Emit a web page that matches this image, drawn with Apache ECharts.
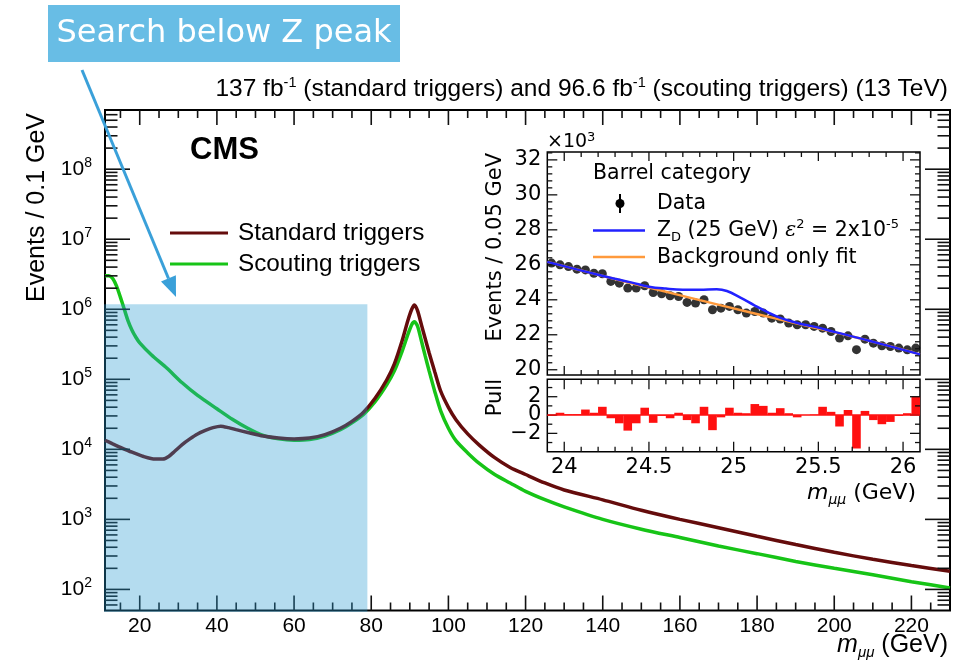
<!DOCTYPE html>
<html><head><meta charset="utf-8">
<script src="https://cdn.jsdelivr.net/npm/echarts@6/dist/echarts.min.js"></script>
<style>html,body{margin:0;padding:0;background:#fff}#c{width:971px;height:663px}</style>
</head><body><div id="c"></div>
<script>
// ---------- main plot data (m_mumu in GeV, events / 0.1 GeV) ----------
const massStd = [11,13,15,18,21,24,26,27.5,29,31,33,35,37,39,41,43,45,48,52,56,60,64,68,72,75,78,81,84,86,88,89.5,90.5,91.2,92,93,94,95,96.5,98,100,102,105,108,112,116,120,125,130,140,150,160,170,180,190,200,210,220,230];
const eventsStd = [13500,12000,10700,9100,7900,7250,7250,7900,9300,11700,14100,16600,18600,20400,21400,20400,19100,17400,15500,14500,14100,14500,16200,20000,25100,33900,53700,97700,166000,355000,692000,1000000,1150000,955000,603000,380000,240000,126000,67600,39800,26300,16600,11500,7600,5500,4370,3310,2630,1900,1350,1000,760,575,437,339,269,219,182];
const massSct = [11,12,13,14,15,16,17,18,19,20,23,27,31,35,40,44,48,52,56,60,64,68,72,75,78,81,84,86,88,89.5,90.5,91.2,92,93,94,95,96.5,98,100,102,105,108,112,116,120,125,130,140,150,160,170,180,190,200,210,220,230];
const eventsSct = [3020000,3020000,2750000,2140000,1480000,1000000,676000,501000,398000,331000,224000,145000,89100,58900,38000,26900,20000,15800,14100,13500,13800,15500,19100,24000,31600,47900,83200,132000,251000,437000,603000,661000,575000,355000,214000,132000,66100,35500,20000,13200,8900,6300,4370,3310,2510,1910,1510,1000,724,550,417,324,251,200,162,129,105];
const seriesNames = ['Standard triggers', 'Scouting triggers'];
const xTickLabels = [20,40,60,80,100,120,140,160,180,200,220];
const shadeMass = [11, 79];
const shadeTop = 1.18e6;

// ---------- inset data (Barrel category, x10^3 events / 0.05 GeV) ----------
const binMass = [23.925,23.975,24.025,24.075,24.125,24.175,24.225,24.275,24.325,24.375,24.425,24.475,24.525,24.575,24.625,24.675,24.725,24.775,24.825,24.875,24.925,24.975,25.025,25.075,25.125,25.175,25.225,25.275,25.325,25.375,25.425,25.475,25.525,25.575,25.625,25.675,25.725,25.775,25.825,25.875,25.925,25.975,26.025,26.075];
const dataEvents = [26.10,26.00,25.90,25.75,25.71,25.52,25.49,25.05,24.95,24.67,24.67,24.80,24.42,24.34,24.23,24.19,23.85,23.81,24.00,23.43,23.52,23.62,23.43,23.24,23.33,23.24,22.95,22.90,22.67,22.57,22.57,22.48,22.38,22.19,21.81,21.94,21.15,21.75,21.52,21.37,21.33,21.24,21.14,21.24];
const pullValues = [-0.1,0.25,0.1,0.1,0.6,0.25,0.9,-0.35,-0.9,-1.7,-0.9,0.8,-0.85,-0.1,-0.35,0.25,-0.55,-0.9,0.9,-1.65,-0.25,0.8,0.25,0.2,1.2,1.0,0.25,0.75,0.2,-0.25,0,0.05,0.9,0.35,-1.25,0.55,-3.65,0.45,-0.55,-1.0,-0.75,-0.1,0.2,2.05];
const fitMass = [23.9,24.2,24.5,24.8,25.1,25.4,25.7,26.0,26.1];
const fitEvents = [26.17,25.43,24.70,23.98,23.27,22.58,21.90,21.15,20.88];
const sigMass = [23.9,24.2,24.3,24.4,24.5,24.6,24.7,24.8,24.9,24.96,25.04,25.12,25.2,25.28,25.38,25.48,25.6,25.8,26.1];
const sigEvents = [26.17,25.43,25.20,24.98,24.75,24.64,24.58,24.58,24.60,24.50,24.12,23.70,23.30,22.95,22.66,22.45,22.15,21.66,20.88];
const insetXTicks = [24,24.5,25,25.5,26];
const insetYTicks = [20,22,24,26,28,30,32];
const pullTicks = [-2,0,2];

// ---------- layout / helpers ----------
const SANS = 'Liberation Sans, Arial, Helvetica, sans-serif';
const DV = 'DejaVu Sans, sans-serif';
const MX = [11,230], MY = [50,7e8];
const IX = [23.9,26.1], IY = [19.7,32.45], PY = [-4,3.9];
const G0 = { left: 105, top: 110, width: 845, height: 500.5 };
const G1 = { left: 547.3, top: 152, width: 372.7, height: 223 };
const G2 = { left: 547.3, top: 379.3, width: 372.7, height: 72.4 };

function steps(a, b, step) { const out = []; for (let i = 0; ; i++) { const v = +(a + i*step).toFixed(6); if (v > b + 1e-9) break; out.push(v); } return out; }
const mainXMinor = steps(15, 225, 5).filter(v => v % 20 !== 0);
const mainYMajor = [1e2,1e3,1e4,1e5,1e6,1e7,1e8];
const mainYMinor = [];
for (let e = 1; e <= 8; e++) for (let k = 2; k <= 9; k++) { const v = k*Math.pow(10,e); if (v > MY[0] && v < MY[1]) mainYMinor.push(v); }
const insetXMinor = steps(24.0, 26.05, 0.1).filter(v => Math.abs(v*2 - Math.round(v*2)) > 1e-6);
const insetYMinor = steps(20, 32.4, 0.4).filter(v => Math.abs(v/2 - Math.round(v/2)) > 1e-6);
const pullYMinor = [-3,-1,1,3];

// Axis-frame ticks (ROOT style: inside, on all four sides). Positions follow each axis' range over its grid box.
function frameTicks(g, xr, yr, xMaj, xMin, yMaj, yMin, len, lw, logY) {
  const fx = v => g.left + (v - xr[0]) / (xr[1] - xr[0]) * g.width;
  const fy = logY
    ? v => g.top + g.height - Math.log10(v / yr[0]) / Math.log10(yr[1] / yr[0]) * g.height
    : v => g.top + g.height - (v - yr[0]) / (yr[1] - yr[0]) * g.height;
  const bottom = g.top + g.height, top = g.top, left = g.left, right = g.left + g.width;
  const els = [];
  function ln(x1, y1, x2, y2) { els.push({ type: 'line', z: 5, silent: true, shape: { x1: x1, y1: y1, x2: x2, y2: y2 }, style: { stroke: '#111', lineWidth: lw } }); }
  [[xMaj, len[0]], [xMin, len[1]]].forEach(function (p) {
    p[0].forEach(function (v) { const x = fx(v); ln(x, bottom, x, bottom - p[1]); ln(x, top, x, top + p[1]); });
  });
  [[yMaj, len[2]], [yMin, len[3]]].forEach(function (p) {
    p[0].forEach(function (v) { const y = fy(v); ln(left, y, left + p[1], y); ln(right, y, right - p[1], y); });
  });
  return els;
}
const tickGraphic = [].concat(
  frameTicks(G0, MX, MY, xTickLabels, mainXMinor, mainYMajor, mainYMinor, [15, 8, 25, 12.5], 1.6, true),
  frameTicks(G1, IX, IY, insetXTicks, insetXMinor, insetYTicks, insetYMinor, [9, 5, 10, 5], 1.3, false),
  frameTicks(G2, IX, PY, insetXTicks, insetXMinor, pullTicks, pullYMinor, [10, 5, 10, 5], 1.3, false)
);

function axis(grid, pos, range, label, type) {
  const a = { gridIndex: grid, type: type || 'value', position: pos, offset: 0, min: range[0], max: range[1],
    axisLine: { show: false }, axisTick: { show: false }, splitLine: { show: false }, axisLabel: label || { show: false } };
  if (type === 'log') a.logBase = 10;
  return a;
}
const xLabMain = { customValues: xTickLabels, fontSize: 21, fontFamily: SANS, color: '#000', margin: 5 };
const xLabInset = { customValues: insetXTicks, fontSize: 21, fontFamily: DV, color: '#000', margin: 5, formatter: v => String(v) };
const yLabMain = { showMinLabel: false, showMaxLabel: false, margin: 13, color: '#000',
  formatter: function (v) { const l = Math.log10(v), e = Math.round(l); if (Math.abs(l - e) > 1e-6) return ''; return '{b|10}{s|' + e + '}'; },
  rich: { b: { fontSize: 21, fontFamily: SANS, color: '#000', lineHeight: 26 }, s: { fontSize: 14, fontFamily: SANS, color: '#000', verticalAlign: 'top', lineHeight: 14 } } };
const yLabInset = { customValues: insetYTicks, fontSize: 21, fontFamily: DV, color: '#000', margin: 6 };
function pullLab(vals) { return { customValues: vals, interval: 0, hideOverlap: false, fontSize: 21, fontFamily: DV, color: '#000', margin: 6,
  formatter: v => (v < 0 ? '\u2212' + Math.abs(v) : String(v)) }; }

const staticGraphic = [
  // banner
  { type: 'rect', z: 100, shape: { x: 48, y: 5, width: 352, height: 57 }, style: { fill: '#68bde5' } },
  { type: 'text', z: 101, x: 224, y: 34, style: { text: 'Search below Z peak', fill: '#fff', font: '32px DejaVu Sans', textAlign: 'center', textVerticalAlign: 'middle' } },
  // arrow
  { type: 'line', z: 100, shape: { x1: 82, y1: 70, x2: 168.5, y2: 278.5 }, style: { stroke: '#3aa0d9', lineWidth: 3 } },
  { type: 'polygon', z: 100, shape: { points: [[176, 297], [175.9, 275.2], [161, 281.5]] }, style: { fill: '#3aa0d9' } },
  // CMS
  { type: 'text', z: 50, x: 190, y: 150, style: { text: 'CMS', fill: '#000', font: 'bold 31px Liberation Sans', textVerticalAlign: 'middle' } },
  // main axis titles
  { type: 'text', z: 50, x: 37, y: 113, rotation: Math.PI / 2, style: { text: 'Events / 0.1 GeV', fill: '#000', font: '25px Liberation Sans', textAlign: 'right', textVerticalAlign: 'middle' } },
  { type: 'text', z: 50, x: 948, y: 645, style: { text: '{i|m}{u|\u03bc\u03bc}{n| (GeV)}', textAlign: 'right', textVerticalAlign: 'middle',
    rich: { i: { fontSize: 25, fontStyle: 'italic', fontFamily: SANS, fill: '#000', lineHeight: 30 },
            u: { fontSize: 15, fontStyle: 'italic', fontFamily: SANS, fill: '#000', lineHeight: 14, verticalAlign: 'bottom' },
            n: { fontSize: 25, fontFamily: SANS, fill: '#000', lineHeight: 30 } } } },
  // inset axis titles
  { type: 'text', z: 50, x: 496, y: 153, rotation: Math.PI / 2, style: { text: 'Events / 0.05 GeV', fill: '#000', font: '21px DejaVu Sans', textAlign: 'right', textVerticalAlign: 'middle' } },
  { type: 'text', z: 50, x: 496, y: 379, rotation: Math.PI / 2, style: { text: 'Pull', fill: '#000', font: '21px DejaVu Sans', textAlign: 'right', textVerticalAlign: 'middle' } },
  { type: 'text', z: 50, x: 547, y: 142, style: { text: '{n|\u00d710}{s|3}', textVerticalAlign: 'middle',
    rich: { n: { fontSize: 19, fontFamily: DV, fill: '#000', lineHeight: 22 }, s: { fontSize: 13, fontFamily: DV, fill: '#000', lineHeight: 13, verticalAlign: 'top' } } } },
  { type: 'text', z: 50, x: 916, y: 493, style: { text: '{i|m}{u|\u03bc\u03bc}{n| (GeV)}', textAlign: 'right', textVerticalAlign: 'middle',
    rich: { i: { fontSize: 22, fontStyle: 'italic', fontFamily: DV, fill: '#000', lineHeight: 28 },
            u: { fontSize: 14, fontStyle: 'italic', fontFamily: DV, fill: '#000', lineHeight: 13, verticalAlign: 'bottom' },
            n: { fontSize: 22, fontFamily: DV, fill: '#000', lineHeight: 28 } } } },
  // inset legend
  { type: 'text', z: 50, x: 593, y: 174, style: { text: 'Barrel category', fill: '#000', font: '20.5px DejaVu Sans', textVerticalAlign: 'middle' } },
  { type: 'line', z: 50, shape: { x1: 620, y1: 194, x2: 620, y2: 213 }, style: { stroke: '#000', lineWidth: 2 } },
  { type: 'circle', z: 51, shape: { cx: 620, cy: 203.5, r: 4.5 }, style: { fill: '#000' } },
  { type: 'text', z: 50, x: 657, y: 203.5, style: { text: 'Data', fill: '#000', font: '20.5px DejaVu Sans', textVerticalAlign: 'middle' } },
  { type: 'line', z: 50, shape: { x1: 593, y1: 230.5, x2: 645, y2: 230.5 }, style: { stroke: '#2222ff', lineWidth: 2.5 } },
  { type: 'text', z: 50, x: 657, y: 231, style: { text: '{n|Z}{u|D}{n| (25 GeV) }{e|\u03b5}{s|2}{n| = 2x10}{s|-5}', textVerticalAlign: 'middle',
    rich: { n: { fontSize: 20.5, fontFamily: DV, fill: '#000', lineHeight: 26 },
            u: { fontSize: 13, fontFamily: DV, fill: '#000', lineHeight: 12, verticalAlign: 'bottom' },
            e: { fontSize: 20.5, fontFamily: 'DejaVu Serif', fontStyle: 'italic', fill: '#000', lineHeight: 26 },
            s: { fontSize: 13, fontFamily: DV, fill: '#000', lineHeight: 13, verticalAlign: 'top' } } } },
  { type: 'line', z: 50, shape: { x1: 593, y1: 257, x2: 645, y2: 257 }, style: { stroke: '#ff9a3c', lineWidth: 2.5 } },
  { type: 'text', z: 50, x: 657, y: 257.5, style: { text: 'Background only fit', fill: '#000', font: '20.5px DejaVu Sans', textVerticalAlign: 'middle' } }
];

const chart = echarts.init(document.getElementById('c'), null, { renderer: 'canvas', width: 971, height: 663 });

const option = {
  animation: false,
  backgroundColor: '#fff',
  title: {
    text: '137 fb{s|-1} (standard triggers) and 96.6 fb{s|-1} (scouting triggers) (13 TeV)',
    right: 18, top: 70,
    textStyle: { fontSize: 24.5, fontWeight: 'normal', fontFamily: SANS, color: '#000', lineHeight: 28,
      rich: { s: { fontSize: 14.5, fontFamily: SANS, color: '#000', verticalAlign: 'top', lineHeight: 14 } } }
  },
  legend: {
    data: seriesNames, orient: 'vertical', left: 170, top: 219, padding: 0, itemGap: 3,
    itemWidth: 58, itemHeight: 3, icon: 'rect',
    textStyle: { fontSize: 24.3, fontFamily: SANS, color: '#000', lineHeight: 28, padding: [0,0,0,5] }
  },
  grid: [
    Object.assign({ show: true, borderColor: '#000', borderWidth: 2, backgroundColor: 'transparent', containLabel: false, outerBoundsMode: 'none' }, G0),
    Object.assign({ show: true, borderColor: '#000', borderWidth: 1.5, backgroundColor: '#fff', containLabel: false, outerBoundsMode: 'none' }, G1),
    Object.assign({ show: true, borderColor: '#000', borderWidth: 1.5, backgroundColor: '#fff', containLabel: false, outerBoundsMode: 'none' }, G2)
  ],
  xAxis: [
    axis(0, 'bottom', MX, xLabMain),
    axis(1, 'bottom', IX),
    axis(2, 'bottom', IX, xLabInset)
  ],
  yAxis: [
    axis(0, 'left', MY, yLabMain, 'log'),
    axis(1, 'left', IY, yLabInset),
    // pull: one label per axis so that none is dropped by overlap handling
    axis(2, 'left', PY, pullLab([pullTicks[1]])),
    axis(2, 'left', PY, pullLab([pullTicks[0]])),
    axis(2, 'left', PY, pullLab([pullTicks[2]]))
  ],
  series: [
    { name: seriesNames[1], type: 'line', xAxisIndex: 0, yAxisIndex: 0, color: '#17c417', showSymbol: false, smooth: 0.25, z: 3,
      lineStyle: { width: 3.5, color: '#17c417' }, data: massSct.map((m, i) => [m, eventsSct[i]]) },
    { name: seriesNames[0], type: 'line', xAxisIndex: 0, yAxisIndex: 0, color: '#650c0c', showSymbol: false, smooth: 0.25, z: 4,
      lineStyle: { width: 3.5, color: '#650c0c' }, data: massStd.map((m, i) => [m, eventsStd[i]]) },
    { type: 'custom', xAxisIndex: 0, yAxisIndex: 0, clip: false, silent: true, z: 10,
      data: [[shadeMass[0], shadeTop, shadeMass[1]]],
      renderItem: function (params, api) {
        const p0 = api.coord([api.value(0), api.value(1)]);
        const p1 = api.coord([api.value(2), MY[0]]);
        return { type: 'rect', shape: { x: p0[0] - 1, y: p0[1], width: p1[0] - p0[0] + 1, height: p1[1] - p0[1] + 1.5 },
          style: { fill: 'rgba(41,155,209,0.35)' } };
      } },
    // inset upper
    { name: 'Data', type: 'scatter', xAxisIndex: 1, yAxisIndex: 1, symbolSize: 9, itemStyle: { color: '#000' }, z: 3,
      data: binMass.map((m, i) => [m, dataEvents[i]]) },
    { name: 'Background only fit', type: 'line', xAxisIndex: 1, yAxisIndex: 1, showSymbol: false, smooth: 0.3, z: 4,
      lineStyle: { width: 2.5, color: '#ff9a3c' }, data: fitMass.map((m, i) => [m, fitEvents[i]]) },
    { name: 'Z_D', type: 'line', xAxisIndex: 1, yAxisIndex: 1, showSymbol: false, smooth: 0.4, z: 5,
      lineStyle: { width: 2.5, color: '#2222ff' }, data: sigMass.map((m, i) => [m, sigEvents[i]]) },
    // pull panel
    { name: 'Pull', type: 'bar', xAxisIndex: 2, yAxisIndex: 2, barWidth: 8.6, z: 3,
      itemStyle: { color: '#ff1010' }, data: binMass.map((m, i) => [m, pullValues[i]]),
      markLine: { silent: true, symbol: 'none', label: { show: false }, lineStyle: { color: '#ff1010', width: 1.5, type: 'solid' }, data: [{ yAxis: 0 }] } }
  ],
  graphic: staticGraphic.concat(tickGraphic)
};
chart.setOption(option);
</script>
</body></html>
